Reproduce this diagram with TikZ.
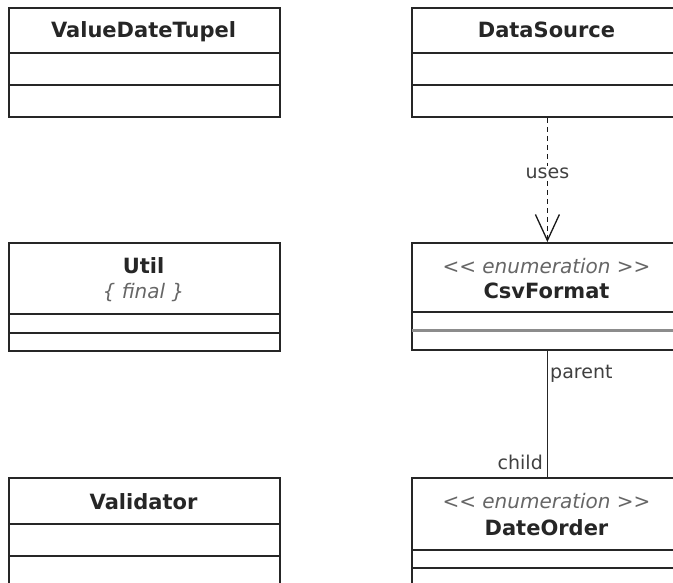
\documentclass[tikz,border=0pt]{standalone}
\usepackage{fontspec}
\setmainfont{DejaVu Sans}
\usetikzlibrary{arrows.meta,calc,positioning}

\tikzset{
  classbox/.style={draw=black!85, line width=1.8pt, minimum width=271pt, inner sep=0pt, anchor=north west},
  compartment/.style={draw=black!85, line width=1.6pt},
  classname/.style={anchor=base, inner sep=0pt, text=black!85, font=\fontsize{21}{24}\selectfont\bfseries},
  stereotype/.style={anchor=base, inner sep=0pt, text=black!60, font=\fontsize{20}{24}\selectfont\itshape},
  rolelabel/.style={inner sep=0pt, text=black!75, font=\fontsize{19}{22}\selectfont},
  usesline/.style={draw=black!90, line width=1.3pt, dash pattern=on 5pt off 4pt, -{Straight Barb[length=26pt,width=24pt]}},
  assocline/.style={draw=black!85, line width=1.7pt},
}

\begin{document}
\begin{tikzpicture}[x=1pt, y=-1pt]
  \path[use as bounding box, fill=white] (0,0) rectangle (673,582);
  \clip (0,0) rectangle (673,582);

  %%% left column
  \node[classbox, minimum height=109pt] (valuedatetupel) at (8,7) {};
  \node[classname] (valuedatetupel-name) at (143.5,37.5) {ValueDateTupel};
  \draw[compartment] (8,53) -- (279,53);
  \draw[compartment] (8,85) -- (279,85);

  \node[classbox, minimum height=108pt] (util) at (8,242) {};
  \node[classname] (util-name) at (143.5,273) {Util};
  \node[stereotype] (util-prop) at (143.5,298) {\{ final \}};
  \draw[compartment] (8,314) -- (279,314);
  \draw[compartment] (8,333) -- (279,333);

  \node[classbox, minimum height=130pt] (validator) at (8,477) {};
  \node[classname] (validator-name) at (143.5,509) {Validator};
  \draw[compartment] (8,524) -- (279,524);
  \draw[compartment] (8,556) -- (279,556);

  %%% right column
  \node[classbox, minimum height=109pt] (datasource) at (411,7) {};
  \node[classname] (datasource-name) at (546.5,37.5) {DataSource};
  \draw[compartment] (411,53) -- (682,53);
  \draw[compartment] (411,85) -- (682,85);

  \node[classbox, minimum height=107pt] (csvformat) at (411,242) {};
  \node[stereotype] (csvformat-stereo) at (546.5,273) {<\kern0pt< enumeration >\kern0pt>};
  \node[classname] (csvformat-name) at (546.5,298) {CsvFormat};
  \draw[compartment] (411,312) -- (682,312);
  \draw[black!45, line width=3pt] (411.9,330.5) -- (682,330.5);

  \node[classbox, minimum height=130pt] (dateorder) at (411,477) {};
  \node[stereotype] (dateorder-stereo) at (546.5,508) {<\kern0pt< enumeration >\kern0pt>};
  \node[classname] (dateorder-name) at (546.5,535) {DateOrder};
  \draw[compartment] (411,550) -- (682,550);
  \draw[compartment] (411,568) -- (682,568);

  %%% relations
  \draw[usesline] (datasource) -- node[pos=0.45, rolelabel, fill=white, inner sep=2pt] (useslbl) {uses} (csvformat);

  \draw[assocline] (csvformat) -- (dateorder);
  \node[rolelabel, anchor=base west] (parentlbl) at (550,378) {parent};
  \node[rolelabel, anchor=base east] (childlbl) at (543,469) {child};
\end{tikzpicture}
\end{document}
